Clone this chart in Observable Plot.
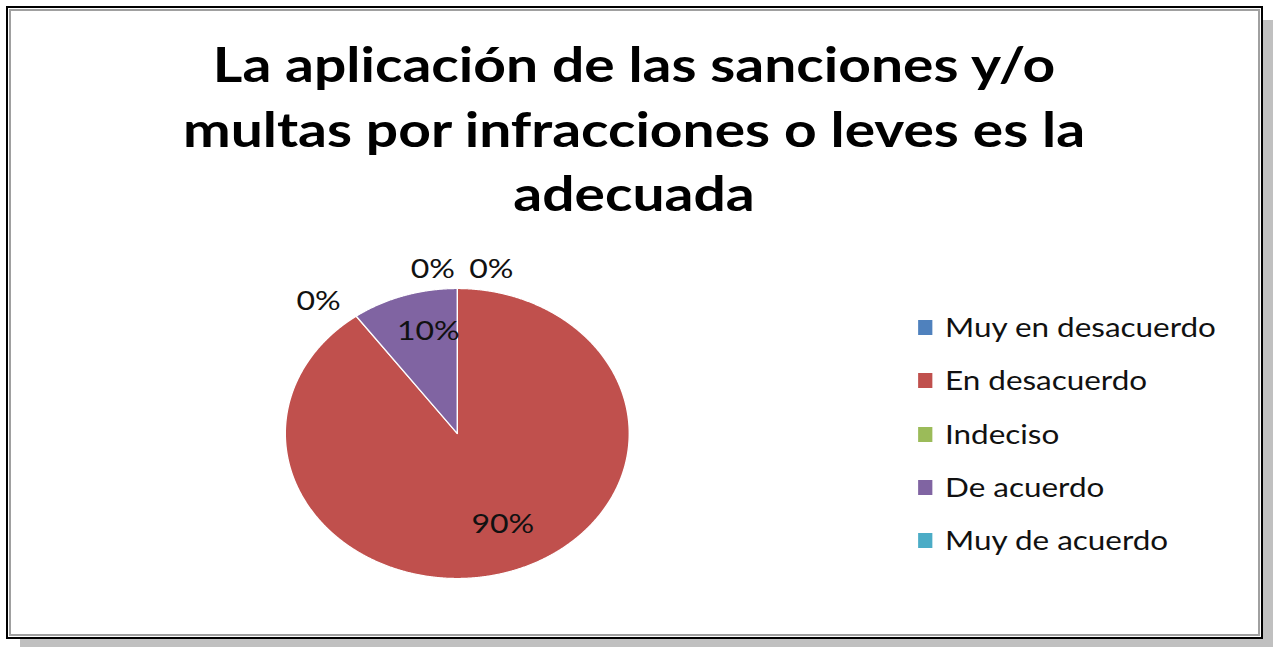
<!DOCTYPE html>
<html><head><meta charset="utf-8">
<script src="https://cdn.jsdelivr.net/npm/d3@7"></script>
<script src="https://cdn.jsdelivr.net/npm/@observablehq/plot@0.6"></script>
<style>
body{margin:0;width:1273px;height:647px;overflow:hidden;background:#fff;position:relative;font-family:Lato,"Open Sans",sans-serif;}
#shadow{position:absolute;left:20px;top:20px;width:1253px;height:627px;background:#c0c0c0;}
#frame{position:absolute;left:6px;top:6px;width:1257px;height:633px;box-sizing:border-box;border:2px solid #000;background:#fff;
  box-shadow: inset 0 0 0 1px #fff, inset 0 0 0 3px #a0a0a0;}
#chart{position:absolute;left:0;top:0;width:1073px;height:647px;transform-origin:0 0;}
#title{position:absolute;left:0;top:32px;width:1073px;text-align:center;font-weight:700;font-size:48px;line-height:64.5px;color:#000;white-space:nowrap;}
#pie{position:absolute;}
.leg{position:absolute;font-size:26.5px;color:#111;line-height:30px;white-space:nowrap;}
.sw{position:absolute;width:12.6px;height:15px;}
</style></head>
<body>
<div id="shadow"></div>
<div id="frame"></div>
<div id="chart"><div id="title"></div><div id="pie"></div></div>
<script>
const categories = ["Muy en desacuerdo", "En desacuerdo", "Indeciso", "De acuerdo", "Muy de acuerdo"];
const percentages = [0, 90, 0, 10, 0];
const colors = ["#4F81BD", "#C0504D", "#9BBB59", "#8064A2", "#4BACC6"];
const titleLines = ["La aplicación de las sanciones y/o", "multas por infracciones o leves es la", "adecuada"];

const S = 172 / 145;            // horizontal stretch of the original picture
const chart = document.getElementById("chart");
chart.style.transform = `scaleX(${S})`;

// title
const title = document.getElementById("title");
title.innerHTML = titleLines.map(t => `<div>${t}</div>`).join("");
title.style.left = ((634 - 1073 * S / 2) / S) + "px";

// pie geometry (unscaled px)
const R = 145, cx = 457 / S, cy = 433, half = 200;
const pieDiv = document.getElementById("pie");
pieDiv.style.left = (cx - half) + "px";
pieDiv.style.top = (cy - half) + "px";

const data = categories.map((c, i) => ({cat: c, v: percentages[i], label: percentages[i] + "%"}));
const arcs = d3.pie().sort(null).value(d => d.v)(data);

const pts = [];
arcs.forEach(a => {
  const span = a.endAngle - a.startAngle;
  if (span <= 0) return;
  const n = Math.max(2, Math.ceil(span / 0.004));
  pts.push({cat: a.data.cat, x: 0, y: 0});
  for (let i = 0; i <= n; i++) {
    const t = a.startAngle + span * i / n;
    pts.push({cat: a.data.cat, x: Math.sin(t), y: Math.cos(t)});
  }
});

const labels = arcs.map((a, i) => {
  const inside = a.data.v > 0;
  const t = inside ? (a.startAngle + a.endAngle) / 2 : a.startAngle;
  const r = inside ? 0.7 : 1.13;
  return {label: a.data.label, x: r * Math.sin(t), y: r * Math.cos(t), inside, first: i === 0};
});

const D = half / R;
const plot = Plot.plot({
  width: 2 * half, height: 2 * half, margin: 0,
  style: {fontFamily: "Lato, 'Open Sans', sans-serif", background: "transparent", overflow: "visible"},
  x: {domain: [-D, D], axis: null},
  y: {domain: [-D, D], axis: null},
  color: {domain: categories, range: colors},
  marks: [
    Plot.line(pts, {x: "x", y: "y", z: "cat", fill: "cat", stroke: "#fff", strokeWidth: 1.2, curve: "linear-closed"}),
    Plot.text(labels.filter(d => d.inside), {x: "x", y: "y", text: "label", fontSize: 27, fill: "#111", dx: 7, dy: -6}),
    Plot.text(labels.filter(d => !d.inside && d.first), {x: "x", y: "y", text: "label", fontSize: 27, fill: "#111", textAnchor: "start", dx: 10}),
    Plot.text(labels.filter(d => !d.inside && !d.first), {x: "x", y: "y", text: "label", fontSize: 27, fill: "#111", textAnchor: "end", dx: -2})
  ]
});
pieDiv.appendChild(plot);

// legend
categories.forEach((c, i) => {
  const y0 = 320 + i * 53.3;
  const sw = document.createElement("div");
  sw.className = "sw";
  sw.style.left = (918 / S) + "px";
  sw.style.top = y0 + "px";
  sw.style.background = colors[i];
  chart.appendChild(sw);
  const t = document.createElement("div");
  t.className = "leg";
  t.style.left = (945 / S) + "px";
  t.style.top = (y0 - 8) + "px";
  t.textContent = c;
  chart.appendChild(t);
});
</script>
</body></html>
